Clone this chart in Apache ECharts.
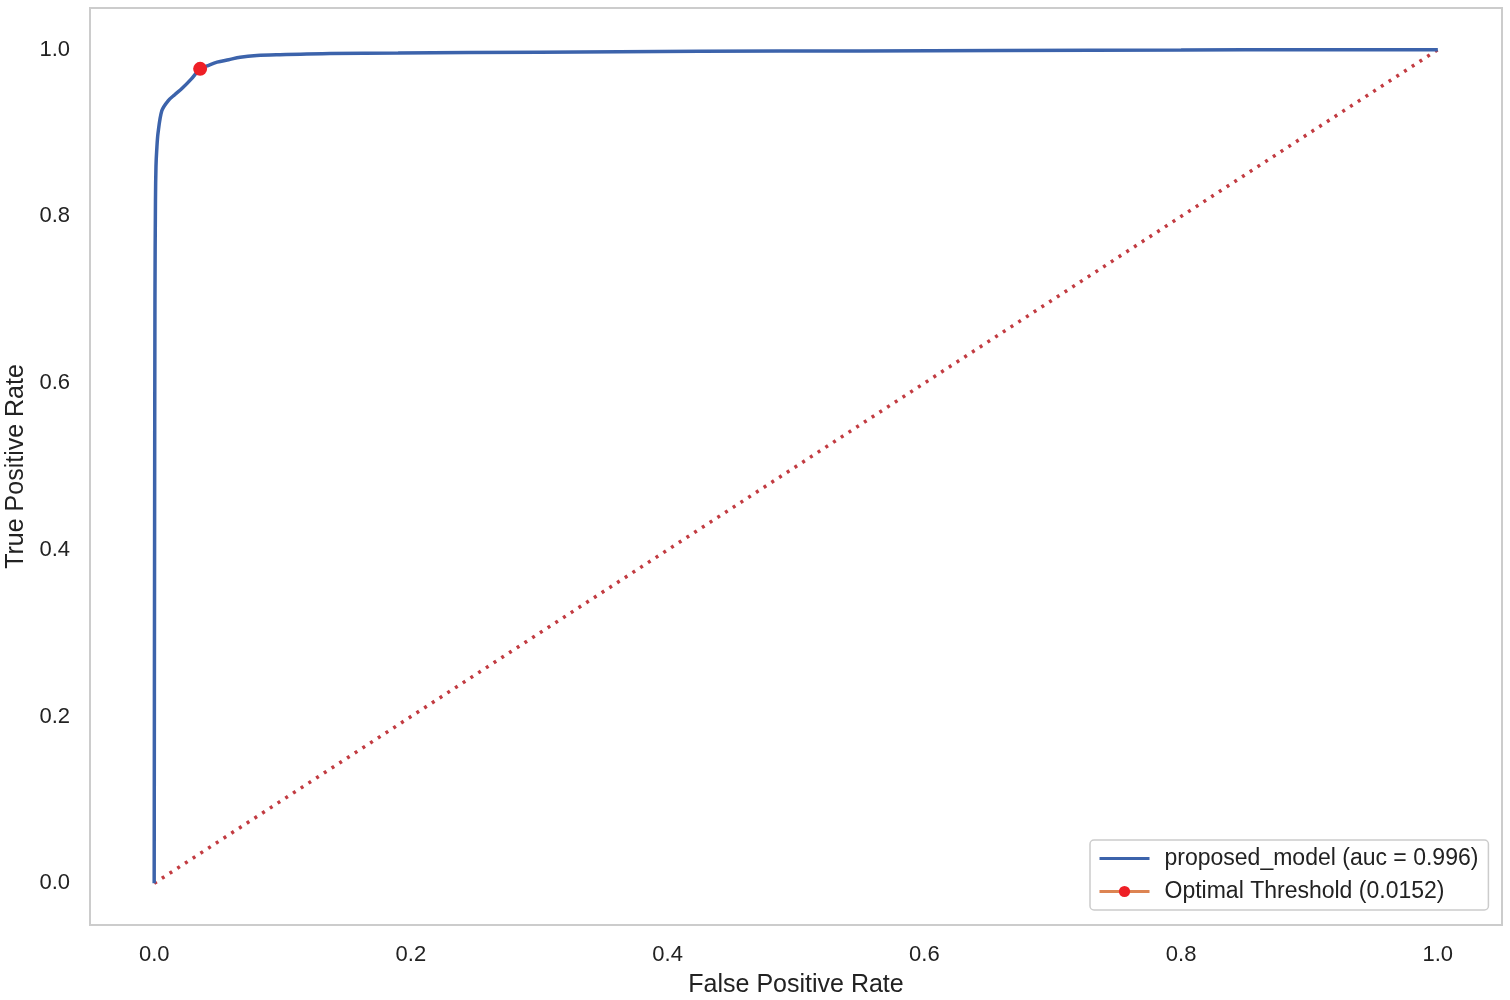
<!DOCTYPE html>
<html>
<head>
<meta charset="utf-8">
<title>ROC curve</title>
<script src="https://cdn.jsdelivr.net/npm/echarts@6/dist/echarts.min.js"></script>
<style>
  html, body { margin: 0; padding: 0; background: #fff; }
  #chart { width: 1510px; height: 1000px; }
</style>
</head>
<body>
<div id="chart"></div>
<script>
  // ROC curve
  let fpr = [0, 0.0003, 0.0006, 0.001, 0.0014, 0.002, 0.003, 0.006, 0.011, 0.016, 0.022, 0.029, 0.0358, 0.042, 0.049, 0.058, 0.067, 0.08, 0.098, 0.137, 0.19, 0.3, 0.425, 0.55, 0.66, 0.8, 0.9, 1.0]
  let tpr = [0, 0.4, 0.7, 0.82, 0.86, 0.88, 0.9, 0.927, 0.939, 0.946, 0.954, 0.965, 0.977, 0.981, 0.985, 0.988, 0.991, 0.993, 0.994, 0.9955, 0.996, 0.997, 0.998, 0.9985, 0.999, 0.9995, 1.0, 1.0]
  let chanceX = [0, 1]
  let chanceY = [0, 1]
  let optimal = [0.0358, 0.977]
  let tickValues = [0, 0.2, 0.4, 0.6, 0.8, 1.0]

  let rocData = fpr.map(function (x, i) { return [x, tpr[i]] })
  let chanceData = chanceX.map(function (x, i) { return [x, chanceY[i]] })

  let myChart = echarts.init(document.getElementById('chart'))
  let font = 'Arial, "Liberation Sans", sans-serif'
  let option = {
    animation: false,
    textStyle: { fontFamily: font },
    grid: {
      left: 90,
      top: 8,
      width: 1412,
      height: 917,
      outerBoundsMode: 'none',
      containLabel: false,
      show: true,
      borderColor: '#cccccc',
      borderWidth: 2,
      backgroundColor: '#ffffff'
    },
    legend: {
      orient: 'vertical',
      left: 1090,
      top: 840,
      padding: [7, 10, 7, 8],
      itemGap: 10,
      itemWidth: 50,
      itemHeight: 14,
      backgroundColor: '#ffffff',
      borderColor: '#cccccc',
      borderWidth: 1.5,
      borderRadius: 4,
      textStyle: { fontSize: 23, color: '#222222', fontFamily: font, padding: [0, 0, 0, 10] },
      data: [
        {
          name: 'proposed_model (auc = 0.996)',
          itemStyle: { opacity: 0, color: 'rgba(0,0,0,0)', borderWidth: 0 },
          lineStyle: { width: 3, color: '#3c63ab' }
        },
        {
          name: 'Optimal Threshold (0.0152)',
          lineStyle: { width: 3, color: '#dd8452' }
        }
      ]
    },
    xAxis: {
      type: 'value',
      min: -0.05,
      max: 1.05,
      name: 'False Positive Rate',
      nameLocation: 'middle',
      nameGap: 48,
      nameTextStyle: { fontSize: 25, color: '#222222', fontFamily: font },
      axisLine: { show: false },
      axisTick: { show: false },
      splitLine: { show: false },
      axisLabel: {
        customValues: tickValues,
        formatter: function (v) { return v.toFixed(1) },
        fontSize: 22,
        color: '#222222',
        margin: 19
      }
    },
    yAxis: {
      type: 'value',
      min: -0.05,
      max: 1.05,
      name: 'True Positive Rate',
      nameLocation: 'middle',
      nameGap: 59,
      nameTextStyle: { fontSize: 25, color: '#222222', fontFamily: font },
      axisLine: { show: false },
      axisTick: { show: false },
      splitLine: { show: false },
      axisLabel: {
        customValues: tickValues,
        formatter: function (v) { return v.toFixed(1) },
        fontSize: 22,
        color: '#222222',
        margin: 20
      }
    },
    series: [
      {
        name: 'proposed_model (auc = 0.996)',
        type: 'line',
        data: rocData,
        showSymbol: false,
        symbol: 'none',
        smooth: 0.3,
        lineStyle: { color: '#3c63ab', width: 3.5 },
        itemStyle: { color: '#3c63ab' },
        z: 3
      },
      {
        name: 'chance',
        type: 'line',
        data: chanceData,
        symbol: 'none',
        lineStyle: { color: '#c23b41', width: 3.5, type: [3, 6.2] },
        z: 2
      },
      {
        name: 'Optimal Threshold (0.0152)',
        type: 'line',
        data: [optimal],
        symbol: 'circle',
        symbolSize: 14,
        lineStyle: { color: '#dd8452', width: 3 },
        itemStyle: { color: '#ee1f26' },
        z: 4
      }
    ]
  }
  myChart.setOption(option)
</script>
</body>
</html>
